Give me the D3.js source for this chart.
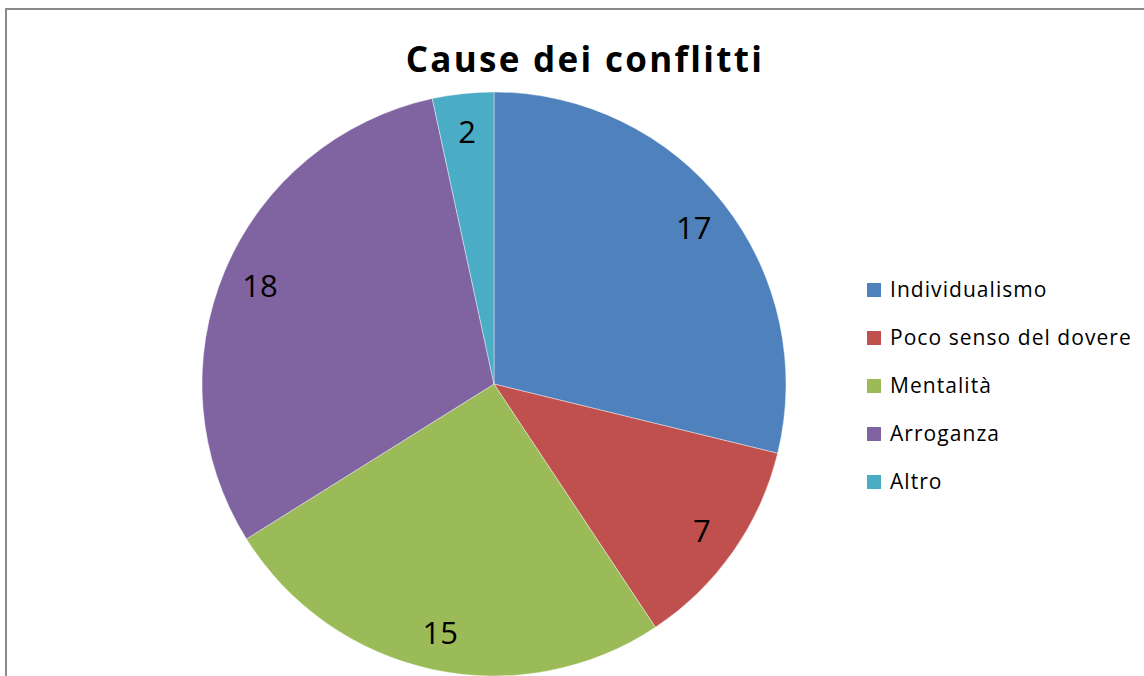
<!DOCTYPE html>
<html>
<head>
<meta charset="utf-8">
<script src="https://cdn.jsdelivr.net/npm/d3@7"></script>
<style>
html,body{margin:0;padding:0;background:#fff;}
svg{display:block;}
</style>
</head>
<body>
<svg id="chart" width="1144" height="676"></svg>
<script>
const title = "Cause dei conflitti";
const categories = ["Individualismo", "Poco senso del dovere", "Mentalità", "Arroganza", "Altro"];
const values = [17, 7, 15, 18, 2];
const colors = ["#4F81BD", "#C0504D", "#9BBB59", "#8064A2", "#4BACC6"];

const W = 1144, H = 676;
const svg = d3.select("#chart");
const FONT = "'Open Sans', Lato, sans-serif";

// chart area border
svg.append("rect")
  .attr("x", 6).attr("y", 9)
  .attr("width", W + 20).attr("height", H + 20)
  .attr("fill", "#fff")
  .attr("stroke", "#8a8a8a")
  .attr("stroke-width", 2);

// title
svg.append("text")
  .attr("x", 585).attr("y", 72)
  .attr("text-anchor", "middle")
  .attr("font-family", FONT)
  .attr("font-weight", "bold")
  .attr("font-size", 35)
  .attr("letter-spacing", 2.3)
  .attr("fill", "#000")
  .text(title);

const cx = 494, cy = 384, R = 292;
const data = categories.map((c, i) => ({ name: c, value: values[i], color: colors[i] }));
const pie = d3.pie().value(d => d.value).sort(null).startAngle(0).endAngle(2 * Math.PI);
const arcs = pie(data);
const arc = d3.arc().innerRadius(0).outerRadius(R);
const labelArc = d3.arc().innerRadius(254).outerRadius(254);

const g = svg.append("g").attr("transform", `translate(${cx},${cy})`);
g.selectAll("path.slice")
  .data(arcs)
  .join("path")
  .attr("class", "slice")
  .attr("d", arc)
  .attr("fill", d => d.data.color)
  .attr("stroke", "#ffffff")
  .attr("stroke-opacity", 0.5)
  .attr("stroke-width", 0.8);

g.selectAll("text.lbl")
  .data(arcs)
  .join("text")
  .attr("class", "lbl")
  .attr("transform", d => `translate(${labelArc.centroid(d)})`)
  .attr("text-anchor", "middle")
  .attr("dominant-baseline", "central")
  .attr("font-family", FONT)
  .attr("font-size", 31)
  .attr("fill", "#000")
  .text(d => d.data.value);

// legend
const legend = svg.append("g").attr("transform", "translate(867,283)");
const rows = legend.selectAll("g.item")
  .data(data)
  .join("g")
  .attr("class", "item")
  .attr("transform", (d, i) => `translate(0,${i * 48})`);
rows.append("rect")
  .attr("x", 0).attr("y", 0)
  .attr("width", 14).attr("height", 14)
  .attr("fill", d => d.color);
rows.append("text")
  .attr("x", 23).attr("y", 14)
  .attr("font-family", FONT)
  .attr("font-size", 21)
  .attr("letter-spacing", 1.05)
  .attr("fill", "#000")
  .text(d => d.name);
</script>
</body>
</html>
